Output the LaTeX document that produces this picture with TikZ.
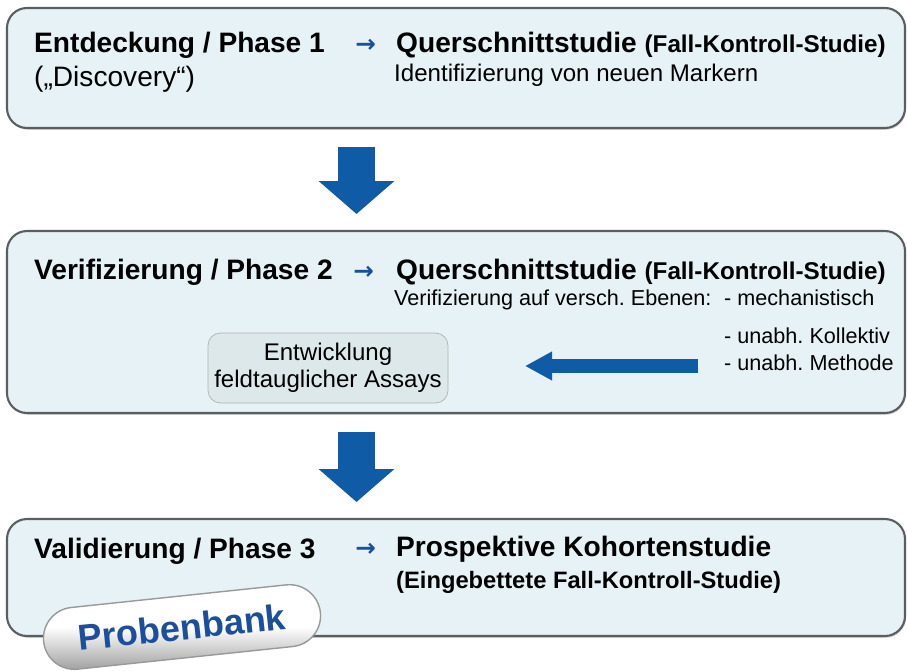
\documentclass[tikz,border=0pt]{standalone}
\usepackage{fontspec}
\setmainfont{Liberation Sans}
\newfontfamily\arrowfont{DejaVu Sans}
\usepackage{xcolor}
\definecolor{pbfill}{HTML}{E6F2F6}
\definecolor{pbline}{HTML}{5A5E60}
\definecolor{pbblue}{HTML}{0F5BA6}
\definecolor{pbtext}{HTML}{1B4F9C}
\definecolor{pbassay}{HTML}{DDE8EB}
\usetikzlibrary{arrows.meta,positioning,shapes.misc,shadows}

\begin{document}
\frenchspacing
\begin{tikzpicture}[
  font=\fontsize{16}{19}\selectfont,
  phase/.style={draw=pbline,fill=pbfill,rounded corners=4mm,
    minimum width=17.96cm,outer sep=0pt,inner sep=0pt,line width=1.2pt,
    drop shadow={shadow xshift=0.5pt,shadow yshift=-1pt,opacity=0.35}},
  head/.style={anchor=base west,font=\fontsize{16}{19}\selectfont\bfseries},
  sub/.style={anchor=base west,font=\fontsize{13.5}{16}\selectfont\bfseries},
  plain/.style={anchor=base west,font=\fontsize{12.3}{15}\selectfont},
  pointer/.style={anchor=base west,text=pbtext,inner sep=0pt,
    font=\arrowfont\bfseries\fontsize{14}{16}\selectfont},
  assay/.style={draw=black!30,fill=pbassay,rounded corners=2.5mm,
    minimum width=4.8cm,minimum height=1.4cm,align=center,outer sep=0pt,
    font=\fontsize{13.7}{15.5}\selectfont},
  down/.style={-{Triangle[width=1.48cm,length=0.66cm]},draw=pbblue,
    line width=0.74cm},
  back/.style={-{Triangle[width=0.54cm,length=0.54cm]},draw=pbblue,
    line width=0.28cm}
]
\useasboundingbox (0,0) rectangle (18.14,-13.4);
% the three phases
\node[phase,minimum height=2.4cm] (p1) at (9.12,-1.36) {};
\node[phase,minimum height=3.64cm] (p2) at (9.12,-6.44) {};
\node[phase,minimum height=2.34cm] (p3) at (9.12,-11.55) {};
% phase 1
\node[head] (t1) at (0.56,-1.06) {Entdeckung / Phase 1};
\node[anchor=base west] (d1) at (0.56,-1.74) {(„Discovery“)};
\node[pointer] (a1) at (7.1,-1.06) {→};
\node[head] (q1) at (7.8,-1.06)
  {Querschnittstudie {\fontsize{13.8}{16}\selectfont(Fall-Kontroll-Studie)}};
\node[anchor=base west,font=\fontsize{13.7}{16}\selectfont] (i1)
  at (7.76,-1.64) {Identifizierung von neuen Markern};
% phase 2
\node[head] (t2) at (0.56,-5.58) {Verifizierung / Phase 2};
\node[pointer] (a2) at (7.06,-5.58) {→};
\node[head] (q2) at (7.8,-5.58)
  {Querschnittstudie {\fontsize{13.8}{16}\selectfont(Fall-Kontroll-Studie)}};
\node[plain] (v2) at (7.76,-6.1) {Verifizierung auf versch. Ebenen:};
\node[plain] (m1) at (14.36,-6.1) {- mechanistisch};
\node[plain] (m2) at (14.36,-6.86) {- unabh. Kollektiv};
\node[plain] (m3) at (14.36,-7.4) {- unabh. Methode};
\node[assay] (as) at (6.56,-7.36) {Entwicklung\\feldtauglicher Assays};
\coordinate (ta) at (13.96,-7.32);
\draw[back,shorten >=1.54cm] (ta) -- (ta -| as.east);
% phase 3
\node[head] (t3) at (0.56,-11.16) {Validierung / Phase 3};
\node[pointer] (a3) at (7.1,-11.12) {→};
\node[head] (q3) at (7.8,-11.12) {Prospektive Kohortenstudie};
\node[sub] (e3) at (7.8,-11.76) {(Eingebettete Fall-Kontroll-Studie)};
% block arrows between the phases
\coordinate (ax) at (7.13,0);
\draw[down,shorten <=0.38cm,shorten >=0.34cm] (p1.south -| ax) -- (p2.north -| ax);
\draw[down,shorten <=0.38cm,shorten >=0.34cm] (p2.south -| ax) -- (p3.north -| ax);
% sample bank label
\node[rounded rectangle,rotate=6,draw=black!40,line width=0.8pt,
  top color=white,bottom color=black!38,middle color=white,
  minimum width=5.8cm,minimum height=1.24cm,text=pbtext,
  font=\fontsize{20.5}{24}\selectfont\bfseries] (pb) at (3.64,-12.54) {Probenbank};
\end{tikzpicture}
\end{document}
